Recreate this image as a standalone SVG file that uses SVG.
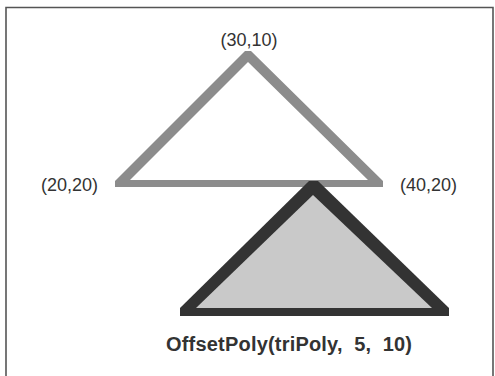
<svg xmlns="http://www.w3.org/2000/svg" width="495" height="376" viewBox="0 0 495 376">
<style>
.lbl{font-family:"Liberation Sans",Arial,sans-serif;font-size:18px;fill:#333}
.cap{font-family:"Liberation Sans",Arial,sans-serif;font-size:20px;font-weight:bold;fill:#333;white-space:pre}
</style>
<rect width="495" height="376" fill="#fff"/>
<path d="M6 380 V7.5 H493 V380" fill="none" stroke="#555" stroke-width="1.6"/>
<g id="triPoly">
<path d="M245 51 L251 51 L383 181 L383 187 L115 187 L115 181 Z M248 62 L130 180 L368 180 Z" fill="#8c8c8c" fill-rule="evenodd"/>
</g>
<g id="offsetPoly">
<path d="M309 181 L318 181 L449 308 L449 316 L180 316 L180 308 Z" fill="#333"/>
<path d="M313 195 L432 308 L196 308 Z" fill="#c9c9c9"/>
</g>
<g id="labels">
<text class="lbl" x="249" y="46" text-anchor="middle">(30,10)</text>
<text class="lbl" x="41" y="191">(20,20)</text>
<text class="lbl" x="400" y="191">(40,20)</text>
<text class="cap" x="166" y="351" textLength="246">OffsetPoly(triPoly,  5,  10)</text>
</g>
</svg>
